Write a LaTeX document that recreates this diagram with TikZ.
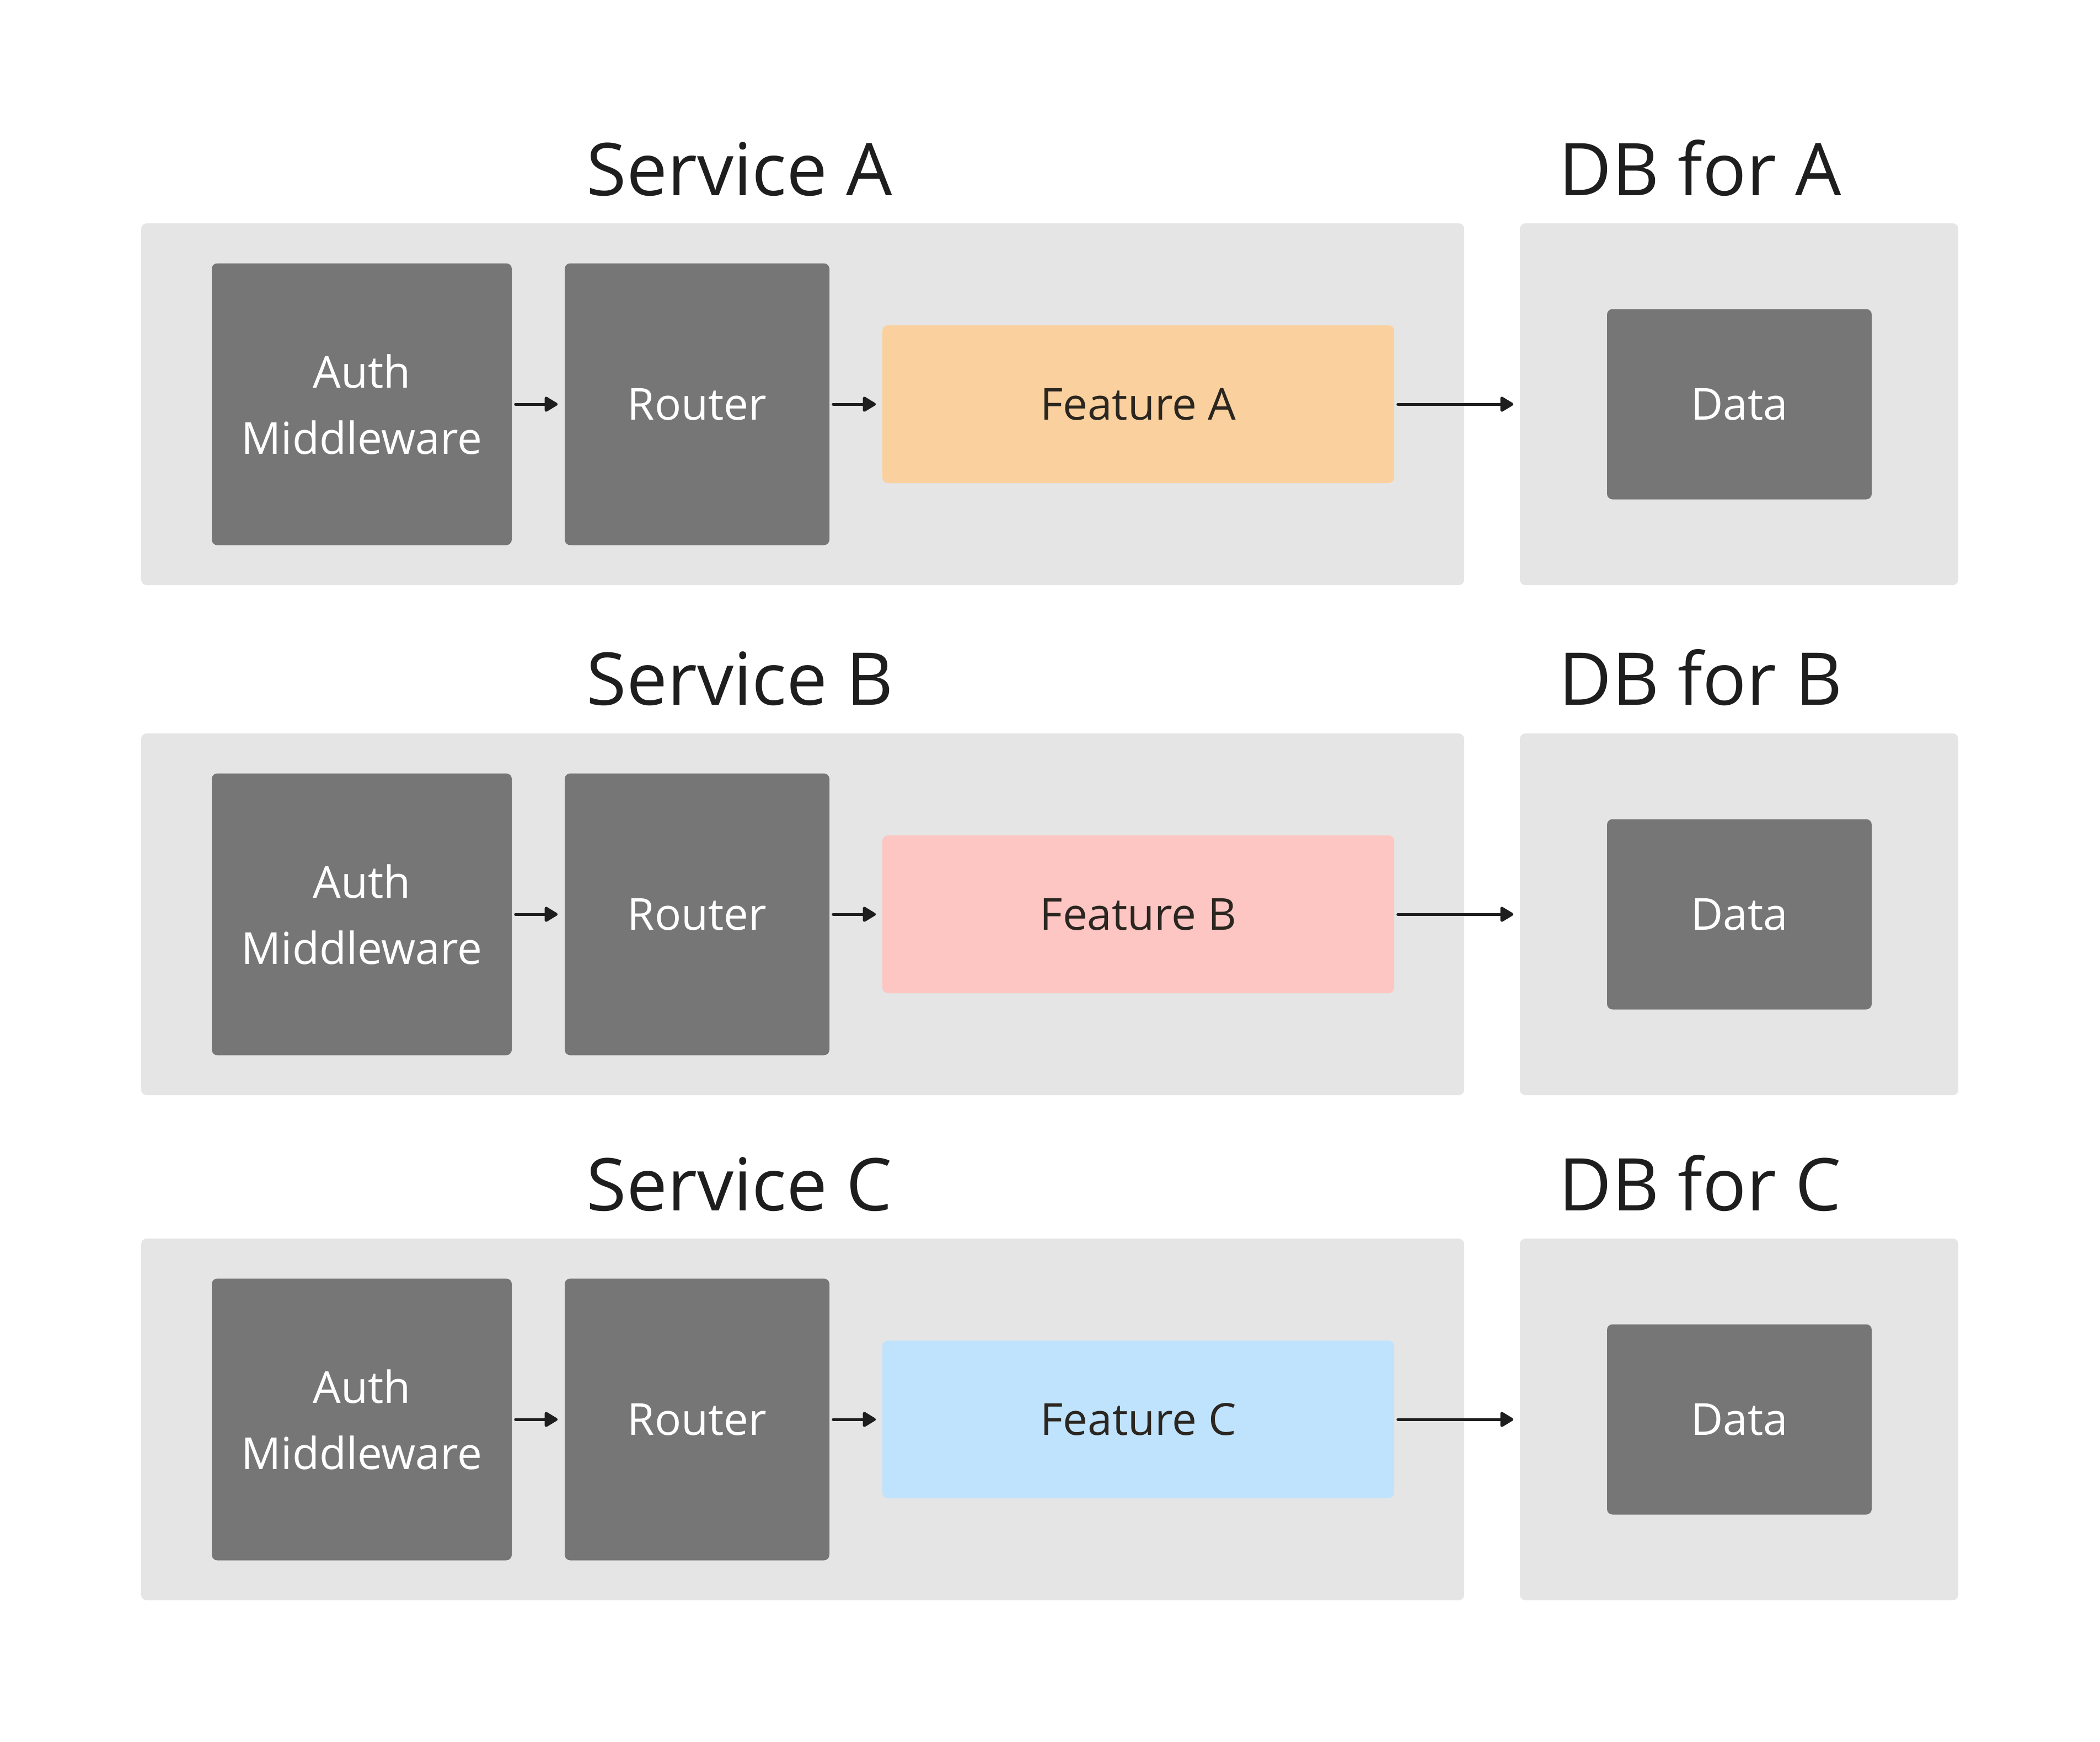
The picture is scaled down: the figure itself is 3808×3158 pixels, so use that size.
\documentclass[tikz,border=0pt]{standalone}
\usepackage{fontspec}
\setmainfont{Open Sans}
\usetikzlibrary{arrows.meta}
\definecolor{panelgray}{HTML}{E5E5E5}
\definecolor{blockgray}{HTML}{767676}
\definecolor{ink}{HTML}{1E1E1E}
\definecolor{featA}{HTML}{FAD19E}
\definecolor{featB}{HTML}{FDC6C2}
\definecolor{featC}{HTML}{BFE3FC}
\definecolor{featink}{HTML}{2B2620}
\begin{document}
\begin{tikzpicture}[x=0.25pt,y=-0.25pt,
  panelbox/.style={fill=panelgray, rounded corners=2.5pt, inner sep=0pt, minimum height=164pt},
  svcpanel/.style={panelbox, minimum width=599.75pt},
  dbpanel/.style={panelbox, minimum width=198.75pt},
  blockbox/.style={fill=blockgray, text=white, rounded corners=2.5pt, inner sep=0pt, align=center, font=\fontsize{20}{30}\selectfont},
  authbox/.style={blockbox, minimum width=136pt, minimum height=127.75pt},
  routerbox/.style={blockbox, minimum width=120pt, minimum height=127.75pt},
  databox/.style={blockbox, minimum width=120pt, minimum height=86.25pt},
  featbox/.style={fill=#1, text=featink, rounded corners=2.5pt, inner sep=0pt, minimum width=232pt, minimum height=71.5pt, font=\fontsize{20}{30}\selectfont},
  titletext/.style={anchor=base west, text=ink, inner sep=0pt, font=\fontsize{33}{40}\selectfont},
  flow/.style={draw=ink, line width=1.25pt, line cap=round, -{Triangle[length=6.5pt,width=7.5pt,round]}}
]
\useasboundingbox (0,0) rectangle (3808,3158);
\foreach \r/\cy/\ty/\col in {A/733/354/featA, B/1658/1278/featB, C/2574/2195/featC}{
  \node[titletext] (svct\r) at (1063,\ty) {Service \r};
  \node[titletext] (dbt\r) at (2826,\ty) {DB for \r};
  \node[svcpanel] (svc\r) at (1455.5,\cy) {};
  \node[dbpanel] (db\r) at (3153.5,\cy) {};
  \node[authbox] (auth\r) at (656,\cy) {Auth\\Middleware};
  \node[routerbox] (router\r) at (1264,\cy) {Router};
  \node[featbox=\col] (feat\r) at (2064,\cy) {Feature \r};
  \node[databox] (data\r) at (3154,\cy) {Data};
  \draw[flow, shorten <=1.5pt, shorten >=3pt] (auth\r.east) -- (router\r.west);
  \draw[flow, shorten <=1.5pt, shorten >=2.75pt] (router\r.east) -- (feat\r.west);
  \draw[flow, shorten <=1.5pt, shorten >=2.75pt] (feat\r.east) -- (db\r.west);
}
\end{tikzpicture}
\end{document}
